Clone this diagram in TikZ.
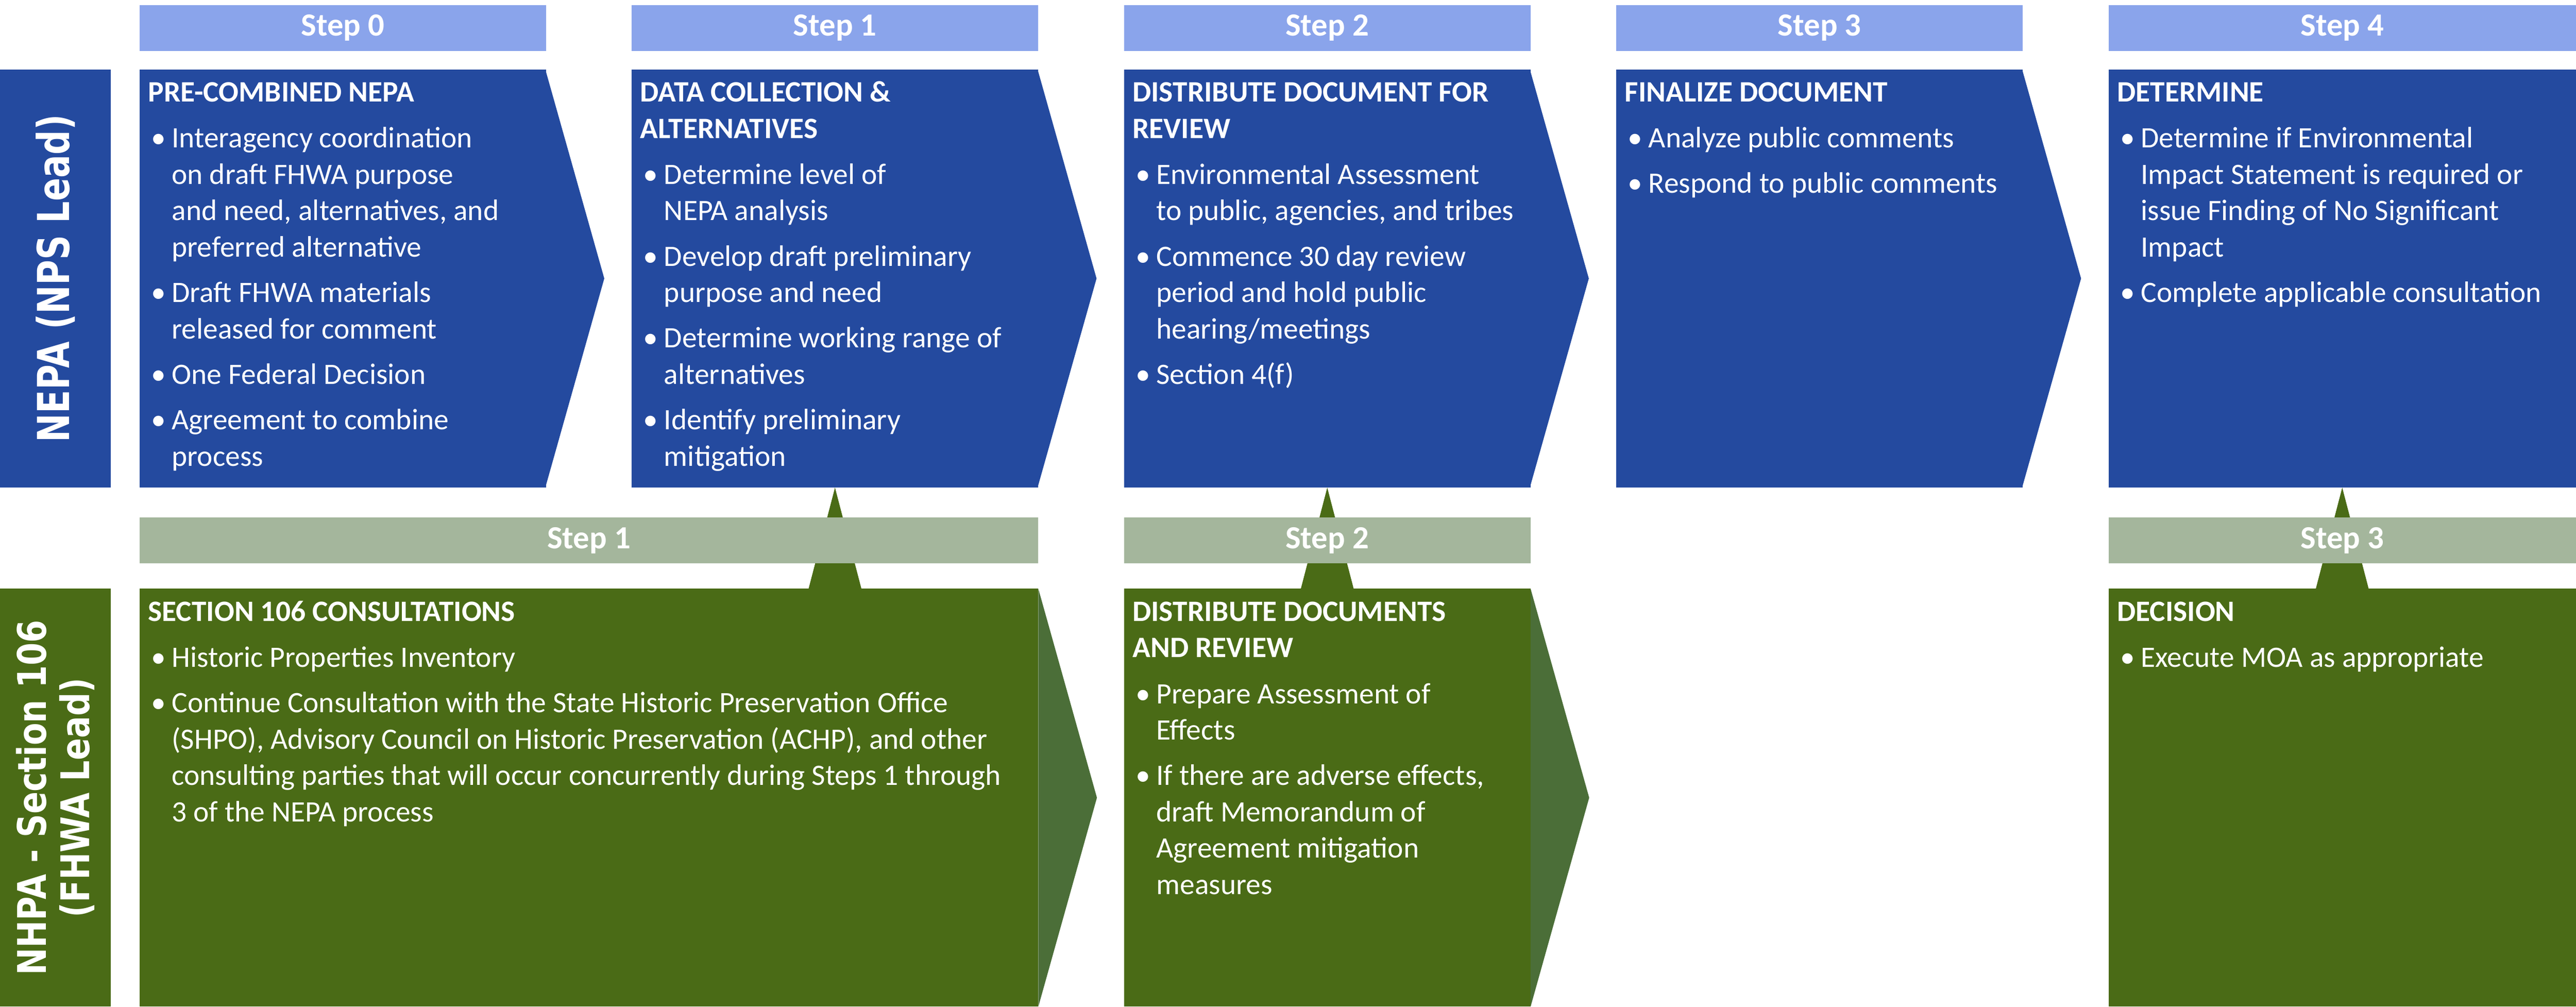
\documentclass[tikz,border=0pt]{standalone}
\usepackage{fontspec}
\usepackage{graphicx}
\setmainfont{Carlito}
\newfontfamily\sidefont{DejaVu Sans}
\usetikzlibrary{positioning,calc}

\definecolor{nepablue}{RGB}{36,74,159}
\definecolor{headblue}{RGB}{138,164,235}
\definecolor{hpagreen}{RGB}{74,107,22}
\definecolor{hpatip}{RGB}{75,110,56}
\definecolor{hpahead}{RGB}{164,182,156}

\newcommand{\bul}{\makebox[0.62cm][l]{\hspace{0.08cm}\textbullet}}
\newcommand{\ind}{\hspace*{0.62cm}}
\newcommand{\topline}{\rule{0pt}{0.84cm}}

\tikzset{
  stephead/.style={fill=headblue, minimum width=10.62cm, minimum height=1.2cm, inner sep=0pt, outer sep=0pt, text=white, font=\fontsize{24}{29}\selectfont\bfseries},
  grnhead/.style={stephead, fill=hpahead},
  nepabox/.style={fill=nepablue, minimum width=10.62cm, minimum height=10.92cm, inner sep=0pt, outer sep=0pt},
  hpabox/.style={nepabox, fill=hpagreen, minimum height=10.91cm},
  sidebox/.style={minimum width=2.89cm, minimum height=10.92cm, inner sep=0pt, outer sep=0pt},
  boxtxt/.style={anchor=north west, inner sep=0pt, align=left, text=white, font=\fontsize{22}{27}\selectfont},
  sidetxt/.style={rotate=90, text=white, align=center, inner sep=0pt}
}

\begin{document}
\begin{tikzpicture}
\useasboundingbox (0,0) rectangle (67.27,-26.28); % Поле рисунка

% Подписи строк слева
\node[sidebox, fill=nepablue] (nepa) at (1.445,-7.27) {};
\node[sidetxt, font=\sidefont\bfseries\fontsize{32.7}{36}\selectfont] (nepalbl) at (nepa) {\scalebox{0.78}[1]{NEPA (NPS Lead)}};
\node[sidebox, fill=hpagreen, minimum height=10.91cm] (nhpa) at (1.445,-20.825) {};
\node[sidetxt, font=\sidefont\bfseries\fontsize{29.3}{32.4}\selectfont] (nhpalbl) at (nhpa) {\scalebox{0.83}[1]{NHPA - Section 106}\\\scalebox{0.83}[1]{(FHWA Lead)}};

% Шаги NEPA: заголовки и стрелки
\foreach \i in {0,...,3} {
  \node[stephead] (h\i) at (8.95+12.855*\i,-0.73) {Step \i}; % Заголовок шага
  \node[nepabox] (b\i) at (8.95+12.855*\i,-7.27) {};
  \fill[nepablue] ([xshift=-0.02cm]b\i.north east) -- ($(b\i.east)+(1.52,0)$) -- ([xshift=-0.02cm]b\i.south east) -- cycle; % Острие стрелки
}
\node[stephead, minimum width=12.21cm] (h4) at (61.165,-0.73) {Step 4};
\node[nepabox, minimum width=12.21cm] (b4) at (61.165,-7.27) {};

% Тексты шагов NEPA
\node[boxtxt] (t0) at ([xshift=0.22cm]b0.north west) {\topline\textbf{PRE-COMBINED NEPA}\\[0.25cm]
\bul Interagency coordination\\
\ind on draft FHWA purpose\\
\ind and need, alternatives, and\\
\ind preferred alternative\\[0.24cm]
\bul Draft FHWA materials\\
\ind released for comment\\[0.24cm]
\bul One Federal Decision\\[0.24cm]
\bul Agreement to combine\\
\ind process};
\node[boxtxt] (t1) at ([xshift=0.22cm]b1.north west) {\topline\textbf{DATA COLLECTION \&}\\
\textbf{ALTERNATIVES}\\[0.25cm]
\bul Determine level of\\
\ind NEPA analysis\\[0.24cm]
\bul Develop draft preliminary\\
\ind purpose and need\\[0.24cm]
\bul Determine working range of\\
\ind alternatives\\[0.24cm]
\bul Identify preliminary\\
\ind mitigation};
\node[boxtxt] (t2) at ([xshift=0.22cm]b2.north west) {\topline\textbf{DISTRIBUTE DOCUMENT FOR}\\
\textbf{REVIEW}\\[0.25cm]
\bul Environmental Assessment\\
\ind to public, agencies, and tribes\\[0.24cm]
\bul Commence 30 day review\\
\ind period and hold public\\
\ind hearing/meetings\\[0.24cm]
\bul Section 4(f)};
\node[boxtxt] (t3) at ([xshift=0.22cm]b3.north west) {\topline\textbf{FINALIZE DOCUMENT}\\[0.25cm]
\bul Analyze public comments\\[0.24cm]
\bul Respond to public comments};
\node[boxtxt] (t4) at ([xshift=0.22cm]b4.north west) {\topline\textbf{DETERMINE}\\[0.25cm]
\bul Determine if Environmental\\
\ind Impact Statement is required or\\
\ind issue Finding of No Significant\\
\ind Impact\\[0.24cm]
\bul Complete applicable consultation};

% Шаги Section 106
\node[hpabox, minimum width=23.475cm] (s1) at (15.3775,-20.825) {};
\node[hpabox] (s2) at (34.66,-20.825) {};
\node[hpabox, minimum width=12.21cm] (s3) at (61.165,-20.825) {};
\foreach \s in {s1,s2}
  \fill[hpatip] (\s.north east) -- ($(\s.east)+(1.53,0)$) -- (\s.south east) -- cycle; % Острие зелёной стрелки

% Связи между строками
\foreach \b/\s in {b1/s1, b2/s2, b4/s3} {
  \coordinate (base\b) at (\b.south |- \s.north);
  \fill[hpagreen] (\b.south) -- ([xshift=-0.69cm]base\b) -- ([xshift=0.69cm]base\b) -- cycle; % Треугольник вверх
}
\node[grnhead, minimum width=23.475cm] (g1) at (15.3775,-14.11) {Step 1}; % Заголовки поверх треугольников
\node[grnhead] (g2) at (34.66,-14.11) {Step 2};
\node[grnhead, minimum width=12.21cm] (g3) at (61.165,-14.11) {Step 3};

% Тексты шагов Section 106
\node[boxtxt] (u1) at ([xshift=0.22cm]s1.north west) {\topline\textbf{SECTION 106 CONSULTATIONS}\\[0.25cm]
\bul Historic Properties Inventory\\[0.24cm]
\bul Continue Consultation with the State Historic Preservation Office\\
\ind (SHPO), Advisory Council on Historic Preservation (ACHP), and other\\
\ind consulting parties that will occur concurrently during Steps 1 through\\
\ind 3 of the NEPA process};
\node[boxtxt] (u2) at ([xshift=0.22cm]s2.north west) {\topline\textbf{DISTRIBUTE DOCUMENTS}\\
\textbf{AND REVIEW}\\[0.25cm]
\bul Prepare Assessment of\\
\ind Effects\\[0.24cm]
\bul If there are adverse effects,\\
\ind draft Memorandum of\\
\ind Agreement mitigation\\
\ind measures};
\node[boxtxt] (u3) at ([xshift=0.22cm]s3.north west) {\topline\textbf{DECISION}\\[0.25cm]
\bul Execute MOA as appropriate};
\end{tikzpicture}
\end{document}
